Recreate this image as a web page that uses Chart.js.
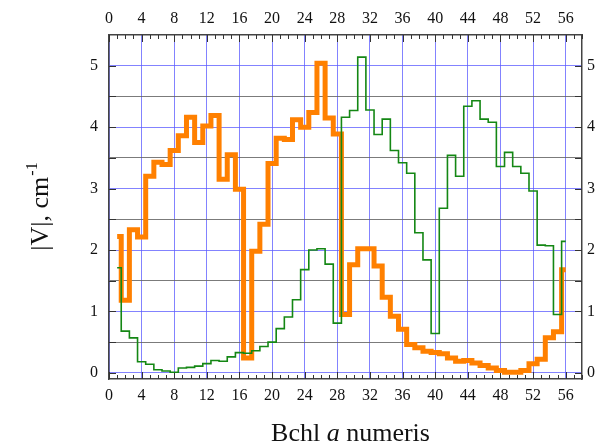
<!DOCTYPE html>
<html>
<head>
<meta charset="utf-8">
<script src="https://cdn.jsdelivr.net/npm/chart.js@4.4.0/dist/chart.umd.min.js"></script>
<style>
  html, body { margin: 0; padding: 0; background: #fff; }
</style>
</head>
<body>
<canvas id="chart" width="606" height="445"></canvas>
<script>
// Bchl a index (x) and the two |V| series
const bchlNumbers = [1, 2, 3, 4, 5, 6, 7, 8, 9, 10, 11, 12, 13, 14, 15, 16, 17, 18, 19, 20,
  21, 22, 23, 24, 25, 26, 27, 28, 29, 30, 31, 32, 33, 34, 35, 36, 37, 38, 39, 40,
  41, 42, 43, 44, 45, 46, 47, 48, 49, 50, 51, 52, 53, 54, 55, 56];

const orangeValues = [2.22, 1.18, 2.33, 2.21, 3.20, 3.43, 3.39, 3.62, 3.86, 4.16,
  3.75, 4.02, 4.19, 3.15, 3.55, 2.99, 0.24, 1.98, 2.42, 3.41,
  3.82, 3.80, 4.12, 4.00, 4.24, 5.04, 4.15, 3.89, 0.95, 1.76,
  2.02, 2.02, 1.74, 1.23, 0.92, 0.71, 0.46, 0.41, 0.35, 0.33,
  0.31, 0.24, 0.19, 0.20, 0.16, 0.12, 0.08, 0.04, 0.01, 0.01,
  0.04, 0.15, 0.22, 0.57, 0.67, 1.68];

const greenValues = [1.71, 0.68, 0.57, 0.18, 0.14, 0.05, 0.03, 0.01, 0.08, 0.09,
  0.11, 0.15, 0.20, 0.19, 0.26, 0.33, 0.32, 0.36, 0.43, 0.50,
  0.72, 0.91, 1.19, 1.68, 2.00, 2.02, 1.77, 0.81, 4.16, 4.27,
  5.14, 4.28, 3.88, 4.13, 3.62, 3.42, 3.25, 2.28, 1.84, 0.64,
  2.68, 3.54, 3.20, 4.34, 4.43, 4.13, 4.08, 3.36, 3.59, 3.36,
  3.25, 2.96, 2.08, 2.07, 0.95, 2.14];

const xTickValues = [0, 4, 8, 12, 16, 20, 24, 28, 32, 36, 40, 44, 48, 52, 56];
const yTickValues = [0, 0.5, 1, 1.5, 2, 2.5, 3, 3.5, 4, 4.5, 5];

const FONT = '"Liberation Serif", "Times New Roman", serif';
const blueGrid = 'rgba(90, 90, 255, 0.75)';
const grayGrid = 'rgba(100, 100, 100, 0.85)';

function toPoints(values) {
  return values.map((v, i) => ({ x: bchlNumbers[i], y: v }));
}

function setTicks(list) {
  return scale => { scale.ticks = list.map(v => ({ value: v })); };
}

const tickFont = { family: FONT, size: 16 };

// inward tick marks + the two axis titles (mixed italic / superscript)
const decorPlugin = {
  id: 'decor',
  beforeDatasetsDraw(chart) {
    const { ctx, chartArea: a, scales } = chart;
    ctx.save();
    ctx.strokeStyle = '#333';
    ctx.lineWidth = 1;
    ctx.beginPath();
    for (let v = 0; v <= 58; v++) {
      const px = Math.round(scales.x.getPixelForValue(v)) + 0.5;
      const len = v % 4 === 0 ? 7 : 4;
      ctx.moveTo(px, a.bottom); ctx.lineTo(px, a.bottom - len);
      ctx.moveTo(px, a.top); ctx.lineTo(px, a.top + len);
    }
    yTickValues.forEach(v => {
      const py = Math.round(scales.y.getPixelForValue(v)) + 0.5;
      ctx.moveTo(a.left, py); ctx.lineTo(a.left + 7, py);
      ctx.moveTo(a.right, py); ctx.lineTo(a.right - 7, py);
    });
    ctx.stroke();
    ctx.restore();
  },
  afterDraw(chart) {
    const { ctx, chartArea: a } = chart;
    ctx.save();
    ctx.fillStyle = '#111';
    ctx.textBaseline = 'alphabetic';

    // x title: "Bchl a numeris"
    const parts = [
      { t: 'Bchl ', f: '26px ' + FONT },
      { t: 'a', f: 'italic 26px ' + FONT },
      { t: ' numeris', f: '26px ' + FONT }
    ];
    let total = 0;
    parts.forEach(p => { ctx.font = p.f; p.w = ctx.measureText(p.t).width; total += p.w; });
    let x = (a.left + a.right) / 2 + 5 - total / 2;
    parts.forEach(p => { ctx.font = p.f; ctx.fillText(p.t, x, 441); x += p.w; });

    // y title: "|V|, cm-1" rotated
    ctx.translate(48, (a.top + a.bottom) / 2);
    ctx.rotate(-Math.PI / 2);
    ctx.font = '26px ' + FONT;
    const main = '|V|, cm';
    const mw = ctx.measureText(main).width;
    ctx.font = '16px ' + FONT;
    const sup = '-1';
    const sw = ctx.measureText(sup).width;
    const start = -(mw + sw) / 2;
    ctx.font = '26px ' + FONT;
    ctx.fillText(main, start, 0);
    ctx.font = '16px ' + FONT;
    ctx.fillText(sup, start + mw + 1, -11);
    ctx.restore();
  }
};

const ctx = document.getElementById('chart').getContext('2d');
new Chart(ctx, {
  type: 'line',
  data: {
    datasets: [{
      label: 'green',
      data: toPoints(greenValues),
      borderColor: 'rgb(20, 135, 20)',
      borderWidth: 1.6,
      stepped: 'middle',
      pointRadius: 0,
      fill: false,
      order: 0
    }, {
      label: 'orange',
      data: toPoints(orangeValues),
      borderColor: 'rgb(255, 128, 0)',
      borderWidth: 5,
      stepped: 'middle',
      pointRadius: 0,
      fill: false,
      order: 1
    }]
  },
  options: {
    responsive: false,
    animation: false,
    layout: { padding: 0 },
    plugins: {
      legend: { display: false },
      tooltip: { enabled: false }
    },
    scales: {
      x: {
        type: 'linear', position: 'bottom', min: 0, max: 58,
        afterBuildTicks: setTicks(xTickValues),
        afterFit: s => { s.height = 66; },
        ticks: { font: tickFont, color: '#111', padding: 7, maxRotation: 0 },
        grid: { color: blueGrid, lineWidth: 1, drawTicks: false },
        border: { color: '#444', width: 1.5 }
      },
      x2: {
        type: 'linear', position: 'top', min: 0, max: 58,
        afterBuildTicks: setTicks(xTickValues),
        afterFit: s => { s.height = 35; },
        ticks: { font: tickFont, color: '#111', padding: 7, maxRotation: 0 },
        grid: { display: false, drawTicks: false },
        border: { color: '#444', width: 1.5 }
      },
      y: {
        type: 'linear', position: 'left', min: -0.1, max: 5.5,
        afterBuildTicks: setTicks(yTickValues),
        afterFit: s => { s.width = 109; },
        ticks: {
          font: tickFont, color: '#111', padding: 11,
          callback: v => Number.isInteger(v) ? v : ''
        },
        grid: {
          color: c => Number.isInteger(c.tick.value) ? blueGrid : grayGrid,
          lineWidth: 1, drawTicks: false
        },
        border: { color: '#444', width: 1.5 }
      },
      y2: {
        type: 'linear', position: 'right', min: -0.1, max: 5.5,
        afterBuildTicks: setTicks(yTickValues),
        afterFit: s => { s.width = 24; },
        ticks: {
          font: tickFont, color: '#111', padding: 5,
          callback: v => Number.isInteger(v) ? v : ''
        },
        grid: { display: false, drawTicks: false },
        border: { color: '#444', width: 1.5 }
      }
    }
  },
  plugins: [decorPlugin]
});
</script>
</body>
</html>
